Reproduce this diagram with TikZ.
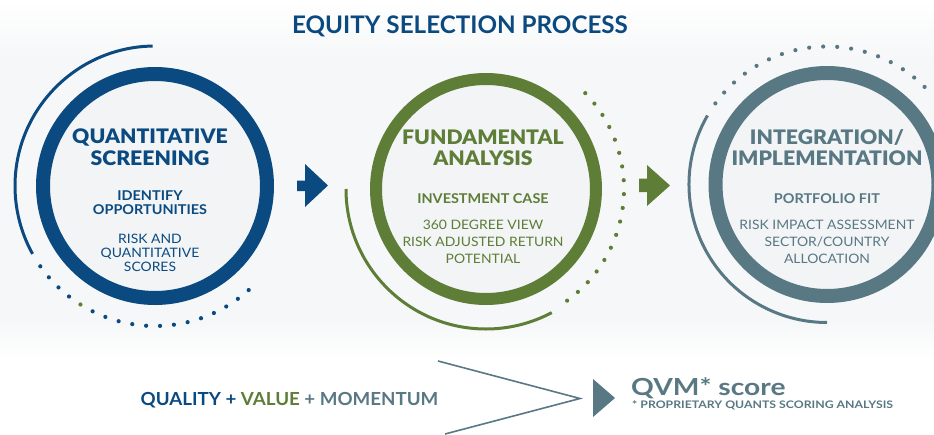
\documentclass[tikz,border=0pt]{standalone}
\usepackage{fontspec}
\setmainfont{Lato}
\IfFontExistsTF{Lato Heavy}{\newfontfamily\heavy[FakeStretch=1.06]{Lato Heavy}}{\newfontfamily\heavy[FakeStretch=1.06]{Lato}[BoldFont=*]}
\newfontfamily\wide[FakeStretch=1.07]{Lato}
\newfontfamily\qfont[FakeStretch=1.04]{Lato}
\newfontfamily\wider[FakeStretch=1.18]{Lato}
\newfontfamily\scorefont[FakeStretch=1.2]{Lato}
\definecolor{cblue}{HTML}{0B4A80}
\definecolor{cgreen}{HTML}{5E7D37}
\definecolor{cslate}{HTML}{587884}
\definecolor{cfill}{HTML}{F2F4F6}
\definecolor{cbg}{HTML}{F6F7F8}
\tikzset{
  head/.style={font=\heavy\fontsize{20}{22}\selectfont\bfseries, anchor=base, inner sep=0pt},
  sub/.style={font=\wide\fontsize{13.5}{15}\selectfont\bfseries, anchor=base, inner sep=0pt},
  desc/.style={font=\wide\fontsize{13}{15}\selectfont, anchor=base, inner sep=0pt},
  ring/.style={line width=14pt, fill=cfill},
  outerarc/.style={line width=3pt}
}
\begin{document}
\begin{tikzpicture}[x=1pt,y=-1pt]
\useasboundingbox (0,0) rectangle (934,434);
\shade[top color=white, bottom color=cbg] (0,0) rectangle (934,60);
\fill[cbg] (0,60) rectangle (934,320);
\shade[top color=cbg, bottom color=white] (0,320) rectangle (934,360);
\fill[white] (0,360) rectangle (934,434);
% title
\node[font=\fontsize{24.2}{28}\selectfont\bfseries, text=cblue, anchor=base, inner sep=0pt] (title) at (460,33) {EQUITY SELECTION PROCESS};

% ---------- circle 1
\coordinate (c1) at (155,186);
\draw[cblue, outerarc] (c1) ++(-91:140) arc[start angle=-91, end angle=-209, radius=140];
\foreach \i in {0,...,17}{
  \pgfmathsetmacro{\a}{-(215+\i*97/17)}
  \ifnum\i=4 \fill[cgreen] (c1) ++(\a:140) circle (2.1);
  \else \fill[cblue] (c1) ++(\a:140) circle (2.1); \fi
}
\draw[cblue, ring] (c1) circle (112);
\begin{scope}[text=cblue]
\node[head] (h1a) at (150,143) {QUANTITATIVE};
\node[head] (h1b) at (150,165) {SCREENING};
\node[sub] (s1a) at (150,200) {IDENTIFY};
\node[sub] (s1b) at (150,214) {OPPORTUNITIES};
\node[desc] (d1a) at (150,243) {RISK AND};
\node[desc] (d1b) at (150,257) {QUANTITATIVE};
\node[desc] (d1c) at (150,271) {SCORES};
\end{scope}

% ---------- circle 2
\coordinate (c2) at (486,189);
\draw[cgreen, outerarc] (c2) ++(-180:140) arc[start angle=-180, end angle=-298, radius=140];
\foreach \i in {0,...,17}{
  \pgfmathsetmacro{\a}{-(44-\i*98/17)}
  \fill[cgreen] (c2) ++(\a:138) circle (2.1);
}
\draw[cgreen, ring, line width=12pt] (c2) circle (110);
\begin{scope}[text=cgreen]
\node[head] (h2a) at (483,144) {FUNDAMENTAL};
\node[head] (h2b) at (483,165) {ANALYSIS};
\node[sub] (s2a) at (483,203) {INVESTMENT CASE};
\node[desc] (d2a) at (483,229) {360 DEGREE VIEW};
\node[desc] (d2b) at (483,246) {RISK ADJUSTED RETURN};
\node[desc] (d2c) at (483,263) {POTENTIAL};
\end{scope}

% ---------- circle 3
\coordinate (c3) at (827,184.5);
\draw[cslate, outerarc] (c3) ++(-150:138) arc[start angle=-150, end angle=-270, radius=138];
\foreach \i in {0,...,17}{
  \pgfmathsetmacro{\a}{-(144-\i*99/17)}
  \fill[cslate] (c3) ++(\a:138) circle (2.1);
}
\draw[cslate, ring] (c3) circle (111.5);
\begin{scope}[text=cslate]
\node[head] (h3a) at (827,144) {INTEGRATION/};
\node[head] (h3b) at (827,165) {IMPLEMENTATION};
\node[sub] (s3a) at (827,203) {PORTFOLIO FIT};
\node[desc] (d3a) at (827,229) {RISK IMPACT ASSESSMENT};
\node[desc] (d3b) at (827,246) {SECTOR/COUNTRY};
\node[desc] (d3c) at (827,263) {ALLOCATION};
\end{scope}

% ---------- arrows between circles
\fill[cblue] (297,180.5) -- (305,180.5) -- (305,164) -- (328,185.5) -- (305,207) -- (305,191) -- (297,191) -- cycle;
\fill[cgreen] (639,178.5) -- (647,178.5) -- (647,165) -- (670,185.5) -- (647,206) -- (647,192) -- (639,192) -- cycle;

% ---------- bottom
\node[font=\qfont\fontsize{18}{20}\selectfont\bfseries, anchor=base, inner sep=0pt] (qvm) at (289.5,405.5)
  {\textcolor{cblue}{QUALITY +} \textcolor{cgreen}{VALUE} \textcolor{cslate}{+ MOMENTUM}};
\coordinate (la) at (438,361);
\coordinate (lm) at (580,398.5);
\coordinate (lb) at (445,434);
\draw[cslate, line width=1.6pt, line join=miter] (la) -- (lm) -- (lb);
\fill[cslate] (593,379) -- (615,398) -- (593,417) -- cycle;
\node[font=\scorefont\fontsize{23.5}{25}\selectfont\bfseries, text=cslate, anchor=base west, inner sep=0pt] (score) at (631,395.5) {QVM* score};
\node[font=\wider\fontsize{10.4}{12}\selectfont\bfseries, text=cslate, anchor=base west, inner sep=0pt] (note) at (632,408) {* PROPRIETARY QUANTS SCORING ANALYSIS};
\end{tikzpicture}
\end{document}
